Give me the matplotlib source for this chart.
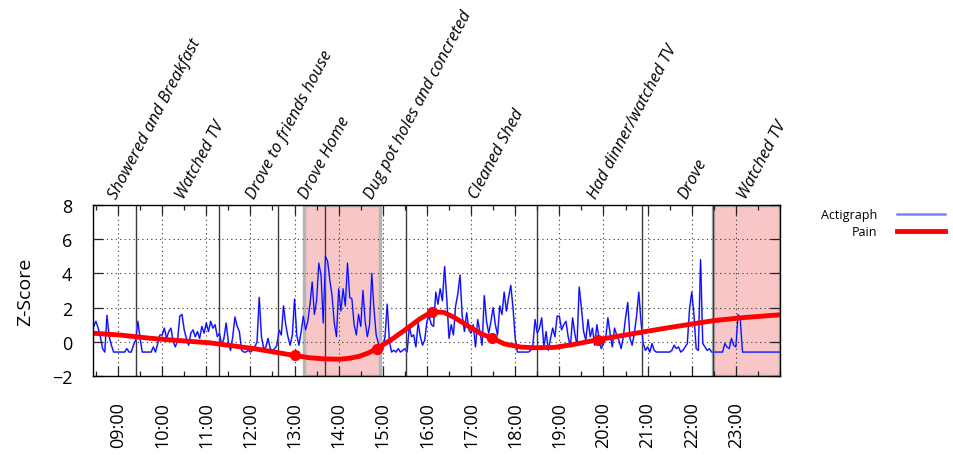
import matplotlib
matplotlib.use("Agg")
import matplotlib.pyplot as plt
from matplotlib.lines import Line2D
from matplotlib.ticker import FixedLocator, MultipleLocator
import numpy as np

plt.rcParams["font.family"] = ["Open Sans", "DejaVu Sans"]

# ── Actigraph z-scores, one sample every 3 minutes, first sample at 08:27 ──
ACT_START = "08:27"
ACT_STEP_MIN = 3

act_08 = [0.9, 1.2, 0.8, 0.3, -0.4, -0.6, 1.55, 0.3, -0.2, -0.6, -0.6]
act_09 = [-0.6, -0.6, -0.6, -0.6, -0.4, -0.6, -0.6, -0.2, 0.1, 1.2,
          0.2, -0.6, -0.6, -0.6, -0.6, -0.6, -0.3, -0.6, -0.1, 0.4]
act_10 = [0.4, 0.8, 0.2, 0.6, 0.8, 0.0, -0.3, 0.1, 1.5, 1.6,
          0.7, 0.2, -0.2, 0.5, 0.7, 0.3, 0.6, 0.2, 0.9, 0.5]
act_11 = [1.1, 0.6, 1.2, 0.8, 1.0, 0.3, 0.5, -0.2, 0.2, 1.1,
          0.0, -0.5, 0.3, 1.45, 0.9, 0.6, -0.5, -0.6, -0.6, -0.5]
act_12 = [-0.6, -0.5, -0.3, 0.0, 2.6, 0.3, -0.4, -0.3, 0.2, -0.4,
          -0.5, -0.4, -0.2, 0.7, 0.4, 2.1, 1.0, 0.3, -0.2, 0.4]
act_13 = [2.5, 0.4, -0.2, 0.6, 1.5, 0.7, 1.2, 2.2, 3.5, 1.6,
          2.4, 4.6, 3.9, 1.1, 5.0, 4.7, 3.6, 2.7, 1.1, 0.3]
act_14 = [3.1, 1.8, 3.1, 2.1, 4.6, 2.6, 2.5, 1.0, 0.4, 1.6,
          0.9, 3.0, 1.2, 0.3, 1.0, 4.0, 1.9, 0.4, -0.1, -0.4]
act_15 = [-0.4, 0.3, 2.2, 0.0, -0.6, -0.5, -0.6, -0.4, -0.6, -0.5,
          -0.4, -0.6, 0.9, 0.3, 0.4, -0.3, 1.1, 0.3, -0.2, 0.1]
act_16 = [1.2, 1.5, 1.0, 0.9, 2.9, 2.2, 3.1, 2.4, 4.4, 2.5,
          0.2, 1.0, 0.4, 2.1, 2.8, 3.9, 1.5, 0.6, 1.7, 0.7]
act_17 = [0.5, 1.0, -0.3, 1.3, 0.6, -0.2, 2.7, 1.2, 0.5, 1.2,
          2.0, 1.0, 0.4, 2.1, 1.6, 2.9, 1.8, 2.6, 3.3, 2.0]
act_18 = [0.2, -0.6, -0.6, -0.6, -0.6, -0.6, -0.6, -0.5, -0.2, 1.3,
          0.5, 0.8, 1.4, -0.3, 0.6, -0.5, 0.2, 0.8, 0.3, 1.5]
act_19 = [1.5, 0.7, 1.0, 1.2, 0.3, -0.3, 1.4, 0.5, -0.2, 3.2,
          2.0, 0.6, 0.1, 1.3, 0.3, 0.8, -0.2, 1.0, 0.2, -0.4]
act_20 = [-0.1, 0.2, 1.4, 0.5, -0.3, 0.8, 0.4, 0.1, -0.4, 0.3,
          1.4, 2.3, 0.2, -0.2, 0.5, 1.5, 2.9, 1.2, -0.1, -0.5]
act_21 = [-0.3, -0.6, -0.1, -0.5, -0.6, -0.6, -0.6, -0.6, -0.6, -0.6,
          -0.6, -0.5, -0.2, -0.4, -0.3, -0.6, -0.5, -0.3, -0.1, 1.9]
act_22 = [2.9, 1.6, -0.4, -0.5, 4.8, -0.1, -0.3, -0.5, -0.4, -0.6,
          -0.6, -0.6, -0.6, -0.6, -0.6, -0.1, -0.3, -0.4, 0.2, -0.2]
act_23 = [-0.3, 1.6, 1.3, -0.6, -0.6, -0.6, -0.6, -0.6, -0.6, -0.6,
          -0.6, -0.6, -0.6, -0.6, -0.6, -0.6, -0.6, -0.6, -0.6, -0.6, -0.6]

# ── Pain curve ──
pain_times = ["08:26", "09:02", "09:43", "10:24", "11:05", "12:05", "13:00", "13:20",
              "13:41", "14:01", "14:15", "14:28", "14:40", "14:52", "15:13", "15:32",
              "15:50", "16:07", "16:23", "16:37", "16:55", "17:14", "17:29", "17:45",
              "18:08", "18:26", "18:53", "19:20", "19:52", "20:38", "21:29", "22:30",
              "23:14", "24:00"]
pain_vals = [0.50, 0.40, 0.21, 0.07, -0.06, -0.40, -0.80, -0.93,
             -1.00, -1.02, -0.96, -0.85, -0.66, -0.40, 0.17, 0.75,
             1.33, 1.76, 1.72, 1.43, 0.95, 0.46, 0.21, -0.12,
             -0.31, -0.35, -0.33, -0.15, 0.12, 0.46, 0.83, 1.24,
             1.43, 1.58]
pain_mark_times = ["13:00", "14:52", "16:07", "17:29", "19:52"]
pain_mark_vals = [-0.80, -0.40, 1.76, 0.21, 0.12]

# ── Activities diary ──
event_lines = ["09:25", "11:17", "12:38", "13:42", "15:32", "18:29", "20:53", "22:29"]
event_labels = ["Showered and Breakfast", "Watched TV", "Drove to friends house",
                "Drove Home", "Dug pot holes and concreted", "Cleaned Shed",
                "Had dinner/watched TV", "Drove", "Watched TV"]
event_label_times = ["08:49", "10:20", "11:56", "13:07", "14:36", "16:58",
                     "19:41", "21:43", "23:05"]
shade_from = ["13:13", "22:29"]
shade_to = ["14:56", "24:00"]

tick_labels = ["09:00", "10:00", "11:00", "12:00", "13:00", "14:00", "15:00", "16:00",
               "17:00", "18:00", "19:00", "20:00", "21:00", "22:00", "23:00"]
x_range = ["08:26", "24:00"]


def hrs(s):
    h, m = s.split(":")
    return int(h) + int(m) / 60.0


def hrs_list(lst):
    return np.array([hrs(s) for s in lst])


act = np.array(act_08 + act_09 + act_10 + act_11 + act_12 + act_13 + act_14 + act_15
               + act_16 + act_17 + act_18 + act_19 + act_20 + act_21 + act_22 + act_23)
act_t = hrs(ACT_START) + np.arange(len(act)) * ACT_STEP_MIN / 60.0

fig = plt.figure(figsize=(9.54, 4.56), dpi=100)
ax = fig.add_axes([93 / 954, 79 / 456, 687 / 954, 171 / 456])

# shaded periods
for a, b in zip(shade_from, shade_to):
    ax.axvspan(hrs(a), hrs(b), facecolor="#f8c6c7", edgecolor="#b5b5b5",
               linewidth=2.5, zorder=0)

# activity boundaries
for t in event_lines:
    ax.axvline(hrs(t), color="#3a3a3a", lw=1.0, zorder=1)

ax.plot(act_t, act, color="#8c8cff", lw=1.3, zorder=2)
ax.plot(act_t, act, color="#0000ff", lw=0.7, zorder=3)
ax.plot(hrs_list(pain_times), pain_vals, color="#ff0000", lw=3.5, zorder=4,
        solid_joinstyle="round")
ax.plot(hrs_list(pain_mark_times), pain_mark_vals, "o", color="#ff0000", ms=7, zorder=5)

ax.set_xlim(hrs(x_range[0]), hrs(x_range[1]))
ax.set_ylim(-2, 8)
ax.yaxis.set_major_locator(MultipleLocator(2))
ax.xaxis.set_major_locator(FixedLocator(hrs_list(tick_labels)))
ax.xaxis.set_minor_locator(MultipleLocator(0.5))
ax.set_xticklabels(tick_labels, rotation=90)

ax.tick_params(which="both", direction="in", top=True, right=True, color="#222222")
ax.tick_params(which="major", length=7, width=0.9)
ax.tick_params(which="minor", length=3.5, width=0.9)
ax.tick_params(axis="y", which="major", labelsize=13, pad=15)
ax.tick_params(axis="x", which="major", labelsize=13, pad=18)

ax.grid(True, which="major", linestyle=(0, (1, 3)), color="#333333", lw=0.8)
ax.set_axisbelow(False)
for sp in ax.spines.values():
    sp.set_linewidth(1.0)
    sp.set_zorder(6)

ax.set_ylabel("Z-Score", fontsize=14)
ax.yaxis.set_label_coords(-0.086, 0.5)

for lab, t in zip(event_labels, event_label_times):
    ax.annotate(lab, xy=(hrs(t), 1.0), xycoords=("data", "axes fraction"),
                xytext=(5, 4), textcoords="offset points", rotation=62,
                rotation_mode="anchor", ha="left", va="baseline",
                fontsize=12, fontstyle="italic")

handles = [Line2D([], [], color="#7f7fff", lw=1.8),
           Line2D([], [], color="#ff0000", lw=3.5)]
fig.legend(handles, ["Actigraph", "Pain"], loc="upper right",
           bbox_to_anchor=(945 / 954, (456 - 209) / 456), frameon=False,
           markerfirst=False, fontsize=9, handlelength=3.8, handletextpad=1.6,
           labelspacing=0.35, borderpad=0, borderaxespad=0)

fig.savefig("out.png", dpi=100)
